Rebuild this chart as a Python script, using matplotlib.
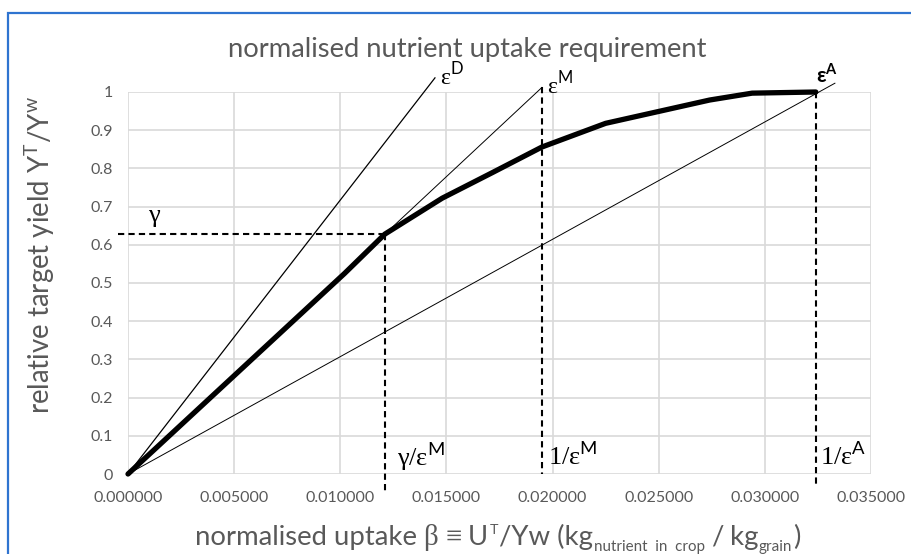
import matplotlib
matplotlib.use("Agg")
import matplotlib.pyplot as plt
from matplotlib.patches import Rectangle
from matplotlib.ticker import MultipleLocator, FormatStrFormatter

# thick curve: relative target yield vs normalised uptake
beta_curve = [0.0, 0.0102, 0.0121, 0.0148, 0.0172, 0.0195, 0.0225, 0.0274, 0.0294, 0.0324]
yield_curve = [0.0, 0.525, 0.628, 0.722, 0.790, 0.856, 0.918, 0.979, 0.997, 1.0]

# efficiency lines from the origin
epsD_x = [0.0, 0.01446]
epsD_y = [0.0, 1.037]
epsM_x = [0.0, 0.0195]
epsM_y = [0.0, 1.012]
epsA_x = [0.0, 0.0333]
epsA_y = [0.0, 1.023]

# dashed guides
gamma = 0.628
gamma_beta = 0.0121
invM = 0.0195
invA = 0.0324

GREY = '#595959'
SANS = ['Lato', 'DejaVu Sans']
SERIF = ['Liberation Serif', 'DejaVu Serif']
W, H = 912, 554

plt.rcParams['font.family'] = SANS
plt.rcParams['mathtext.fontset'] = 'custom'
plt.rcParams['mathtext.rm'] = 'Liberation Serif'
plt.rcParams['mathtext.sf'] = 'Lato'
plt.rcParams['mathtext.bf'] = 'Lato:bold'

fig = plt.figure(figsize=(W / 100, H / 100), dpi=100)
ax = fig.add_axes([128 / W, 80 / H, 743 / W, 382 / H])
rend = fig.canvas.get_renderer()


def fit(t, target, attr='width'):
    # rescale a text so its extent matches the measured size in pixels
    for _ in range(2):
        ext = getattr(t.get_window_extent(rend), attr)
        t.set_fontsize(t.get_fontsize() * target / ext)


def row_text(x0, x1, base, pieces):
    # pieces: (text, relative size, baseline shift px, family, gap px); fit between x0 and x1
    m = 18.0
    for _ in range(3):
        arts = [fig.text(0, 0, s, fontsize=m * k, family=f) for s, k, dy, f, g in pieces]
        ws = [a.get_window_extent(rend).width for a in arts]
        for a in arts:
            a.remove()
        gaps = sum(p[4] for p in pieces)
        m *= (x1 - x0 - gaps) / sum(ws)
    x = x0
    for s, k, dy, f, g in pieces:
        x += g
        t = fig.text(x / W, 1 - (base - dy) / H, s, fontsize=m * k, family=f, color=GREY,
                     ha='left', va='baseline')
        x += t.get_window_extent(rend).width


# chart border (blue frame)
fig.patches.append(Rectangle((8 / W, -0.1), 1.2, 1 - 13 / H + 0.1, transform=fig.transFigure,
                             fill=False, edgecolor='#2f74d0', linewidth=1.6))

ax.plot(epsD_x, epsD_y, color='black', lw=0.9, clip_on=False)
ax.plot(epsM_x, epsM_y, color='black', lw=0.7, clip_on=False)
ax.plot(epsA_x, epsA_y, color='black', lw=0.7, clip_on=False)
ax.plot(beta_curve, yield_curve, color='black', lw=3.8, solid_joinstyle='round',
        solid_capstyle='round', clip_on=False)

dash = dict(color='black', lw=1.5, linestyle=(0, (3, 2)), clip_on=False)
ax.plot([-0.00047, gamma_beta], [gamma, gamma], **dash)
ax.plot([gamma_beta, gamma_beta], [gamma, -0.05], **dash)
ax.plot([invM, invM], [epsM_y[1], 0.0], **dash)
ax.plot([invA, invA], [1.0, -0.03], **dash)

ax.set_xlim(0, 0.035)
ax.set_ylim(0, 1)
ax.xaxis.set_major_locator(MultipleLocator(0.005))
ax.yaxis.set_major_locator(MultipleLocator(0.1))
ax.xaxis.set_major_formatter(FormatStrFormatter('%.6f'))
ax.yaxis.set_major_formatter(lambda v, p: '0' if abs(v) < 1e-9 else ('1' if abs(v - 1) < 1e-9 else f'{v:.1f}'))
ax.grid(True, color='#d9d9d9', lw=1.2)
ax.set_axisbelow(True)
for s in ax.spines.values():
    s.set_visible(False)
ax.tick_params(length=0, colors=GREY, labelsize=11.5)
ax.tick_params(axis='x', pad=12)
ax.tick_params(axis='y', pad=11)

# annotations
serif = dict(color='black', fontsize=19, va='center')
ax.text(0.00094, 0.673, r'$\mathrm{γ}$', ha='left', **serif)
ax.text(0.01267, 0.047, r'$\mathrm{γ/ε}^{\mathsf{M}}$', ha='left', **serif)
ax.text(0.01978, 0.047, r'$\mathrm{1/ε}^{\mathsf{M}}$', ha='left', **serif)
ax.text(0.0326, 0.047, r'$\mathrm{1/ε}^{\mathsf{A}}$', ha='left', **serif)
ax.text(0.0147, 1.045, r'$\mathrm{ε}^{\mathsf{D}}$', ha='left', color='black', fontsize=17, va='center')
ax.text(0.01975, 1.02, r'$\mathrm{ε}^{\mathsf{M}}$', ha='left', color='black', fontsize=17, va='center')
ax.text(0.0324, 1.045, r'$\mathbf{ε}^{\mathbf{A}}$', ha='left', color='black', fontsize=15, va='center')

title = fig.text(467 / W, 1 - 49 / H, 'normalised nutrient uptake requirement', ha='center', va='center',
                 color=GREY, fontsize=18)
fit(title, 479)

# y axis title, sized to span the measured height
ylab = fig.text(40 / W, 1 - 255 / H, r'relative target yield Y$^{\mathsf{T}}$/Y$^{\mathsf{w}}$',
                rotation=90, ha='center', va='center', color=GREY, fontsize=18)
fit(ylab, 318, 'height')

row_text(195, 800, 545, [
    ('normalised uptake', 1.0, 0, SANS, 0),
    ('β ≡', 1.05, 0, SERIF, 7),
    ('U', 1.0, 0, SANS, 6),
    ('T', 0.52, 11, SANS, 1),
    ('/Yw (kg', 1.0, 0, SANS, 1),
    ('nutrient  in  crop', 0.55, -6, SANS, 1),
    ('/', 1.0, 0, SANS, 6),
    ('kg', 1.0, 0, SANS, 7),
    ('grain', 0.55, -6, SANS, 0),
    (')', 1.0, 0, SANS, 1),
])

fig.savefig('out.png', dpi=100)
